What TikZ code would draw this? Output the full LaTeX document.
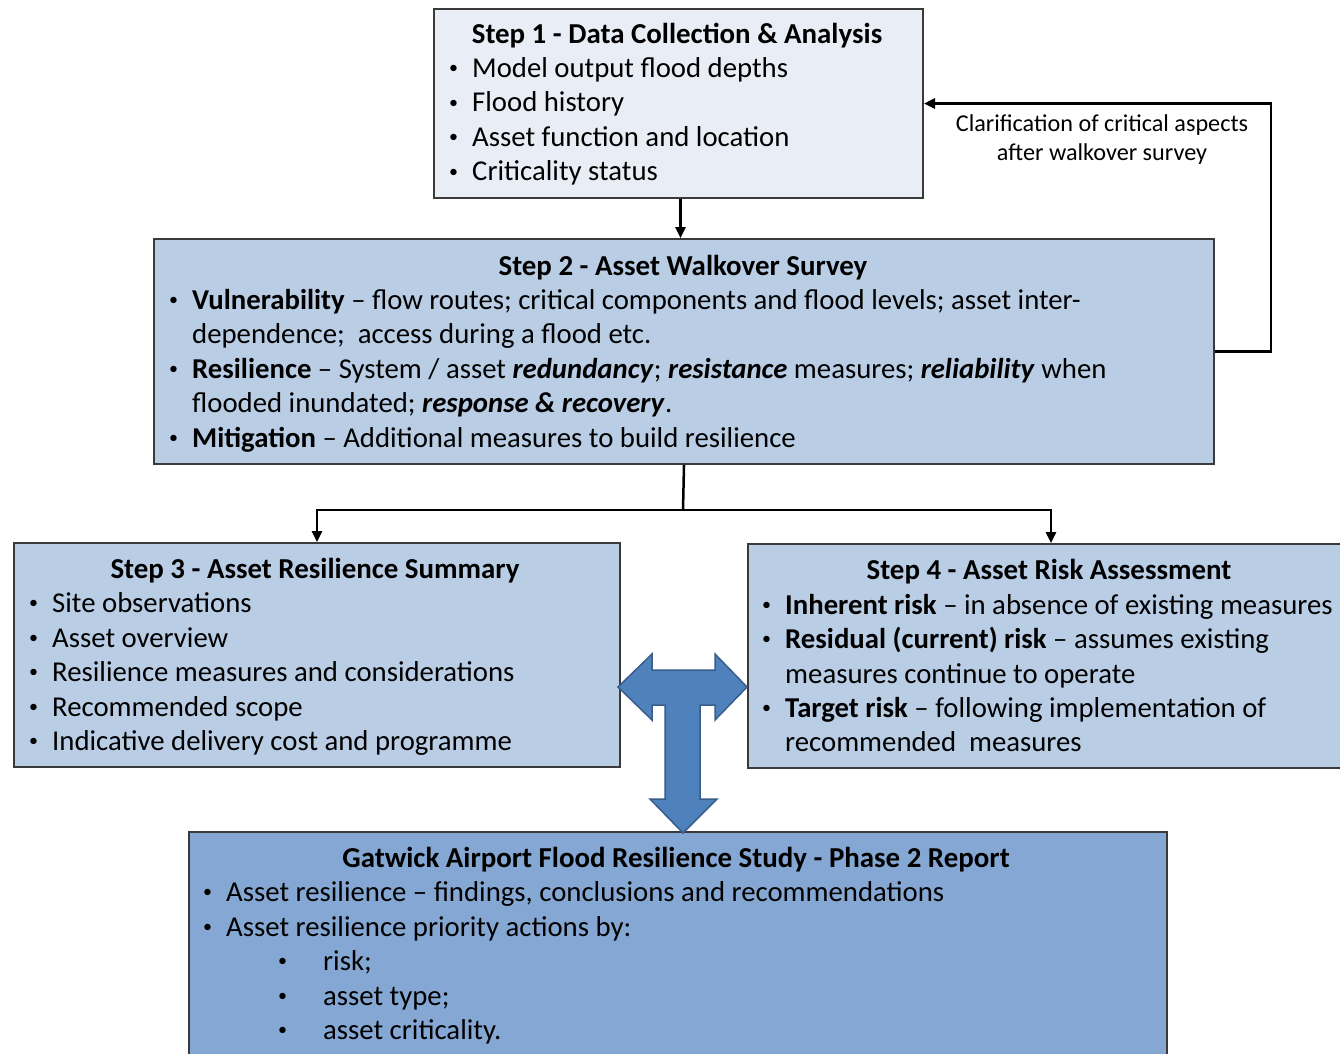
\documentclass[tikz,border=0pt]{standalone}
\usepackage{fontspec}
\setmainfont{Carlito}
\usetikzlibrary{arrows.meta}
\definecolor{bordc}{HTML}{3A3A3A}
\definecolor{fillA}{HTML}{E9EEF6}
\definecolor{fillB}{HTML}{B9CDE5}
\definecolor{fillC}{HTML}{85A7D3}
\definecolor{arrF}{HTML}{4F81BD}
\definecolor{arrD}{HTML}{385D8A}
\begin{document}
\begin{tikzpicture}[x=1pt,y=-1pt,
 box/.style={draw=bordc, line width=2pt, inner sep=0, anchor=north west},
 txt/.style={anchor=base west, inner sep=0, font=\fontsize{28.75}{34}\selectfont},
 bul/.style={anchor=base west, inner sep=0, yshift=3.5pt, font=\fontsize{18}{20}\selectfont},
 ttl/.style={anchor=base, inner sep=0, font=\fontsize{28.9}{34}\selectfont\bfseries},
 lbl/.style={anchor=base, inner sep=0, font=\fontsize{24.2}{28}\selectfont},
 conn/.style={line width=2.5pt, -{Triangle[length=11pt,width=10pt]}},
 plain/.style={line width=2.5pt}]
\useasboundingbox (0,0) rectangle (1340,1053);
\fill[white] (0,0) rectangle (1340,1053);

% boxes
\node[box, fill=fillA, minimum width=489pt, minimum height=189pt] (s1) at (433,8) {};
\node[box, fill=fillB, minimum width=1060pt, minimum height=225pt] (s2) at (153,238) {};
\node[box, fill=fillB, minimum width=606pt, minimum height=224pt] (s3) at (13,542) {};
\node[box, fill=fillB, minimum width=606pt, minimum height=224pt] (s4) at (747,543) {};
\node[box, fill=fillC, minimum width=978pt, minimum height=240pt] (s5) at (188,831) {};

% Step 1
\node[ttl] (s1t) at (677,43) {Step 1 - Data Collection \& Analysis};
\node[bul] (s1b1) at (449,77) {•};   \node[txt] (s1l1) at (472,77) {Model output flood depths};
\node[bul] (s1b2) at (449,111.5) {•}; \node[txt] (s1l2) at (472,111.5) {Flood history};
\node[bul] (s1b3) at (449,146) {•};  \node[txt] (s1l3) at (472,146) {Asset function and location};
\node[bul] (s1b4) at (449,180.5) {•}; \node[txt] (s1l4) at (472,180.5) {Criticality status};

% Step 2
\node[ttl] (s2t) at (683,275) {Step 2 - Asset Walkover Survey};
\node[bul] (s2b1) at (169,309) {•};
\node[txt] (s2l1) at (192,309) {\textbf{Vulnerability} – flow routes; critical components and flood levels; asset inter-};
\node[txt] (s2l2) at (192,343) {dependence;\ \ access during a flood etc.};
\node[bul] (s2b3) at (169,378) {•};
\node[txt] (s2l3) at (192,378) {\textbf{Resilience} – System / asset \textbf{\textit{redundancy}}; \textbf{\textit{resistance}} measures; \textbf{\textit{reliability}} when};
\node[txt] (s2l4) at (192,412) {flooded inundated; \textbf{\textit{response \& recovery}}.};
\node[bul] (s2b5) at (169,447) {•};
\node[txt] (s2l5) at (192,447) {\textbf{Mitigation} – Additional measures to build resilience};

% Step 3
\node[ttl] (s3t) at (315,578) {Step 3 - Asset Resilience Summary};
\node[bul] (s3b1) at (29,612) {•}; \node[txt] (s3l1) at (52,612) {Site observations};
\node[bul] (s3b2) at (29,647) {•}; \node[txt] (s3l2) at (52,647) {Asset overview};
\node[bul] (s3b3) at (29,681) {•}; \node[txt] (s3l3) at (52,681) {Resilience measures and considerations};
\node[bul] (s3b4) at (29,716) {•}; \node[txt] (s3l4) at (52,716) {Recommended scope};
\node[bul] (s3b5) at (29,750) {•}; \node[txt] (s3l5) at (52,750) {Indicative delivery cost and programme};

% Step 4
\node[ttl] (s4t) at (1049,579) {Step 4 - Asset Risk Assessment};
\node[bul] (s4b1) at (762,614) {•}; \node[txt] (s4l1) at (785,614) {\textbf{Inherent risk} – in absence of existing measures};
\node[bul] (s4b2) at (762,648) {•}; \node[txt] (s4l2) at (785,648) {\textbf{Residual (current) risk} – assumes existing};
\node[txt] (s4l3) at (785,683) {measures continue to operate};
\node[bul] (s4b4) at (762,717) {•}; \node[txt] (s4l4) at (785,717) {\textbf{Target risk} – following implementation of};
\node[txt] (s4l5) at (785,751) {recommended\ \ measures};

% Bottom
\node[ttl] (s5t) at (676,867) {Gatwick Airport Flood Resilience Study - Phase 2 Report};
\node[bul] (s5b1) at (203,901) {•}; \node[txt] (s5l1) at (226,901) {Asset resilience – findings, conclusions and recommendations};
\node[bul] (s5b2) at (203,936) {•}; \node[txt] (s5l2) at (226,936) {Asset resilience priority actions by:};
\node[bul] (s5b3) at (278,970) {•}; \node[txt] (s5l3) at (323,970) {risk;};
\node[bul] (s5b4) at (278,1005) {•}; \node[txt] (s5l4) at (323,1005) {asset type;};
\node[bul] (s5b5) at (278,1039) {•}; \node[txt] (s5l5) at (323,1039) {asset criticality.};

% connectors
\draw[conn] ([xshift=2pt]s1.south) -- ([xshift=2pt]s1.south |- s2.north);
\coordinate (j) at (683,510);
\draw[plain] (s2.south) -- (j);
\draw[conn] (j) -| (s3.north);
\draw[conn] (j) -| (s4.north);
\draw[conn] (s2.east) -- ++(56,0) |- (s1.east);
\node[lbl] (c1) at (1102,131) {Clarification of critical aspects};
\node[lbl] (c2) at (1102,160) {after walkover survey};

% T arrow
\draw[fill=arrF, draw=arrD, line width=1.5pt, line join=miter]
 (618,687) -- (652,654) -- (652,670) -- (715,670) -- (715,654) -- (747,687)
 -- (715,720) -- (715,705) -- (700,705) -- (700,799) -- (717,799) -- (683,833)
 -- (650,799) -- (665,799) -- (665,705) -- (652,705) -- (652,720) -- cycle;
\end{tikzpicture}
\end{document}
